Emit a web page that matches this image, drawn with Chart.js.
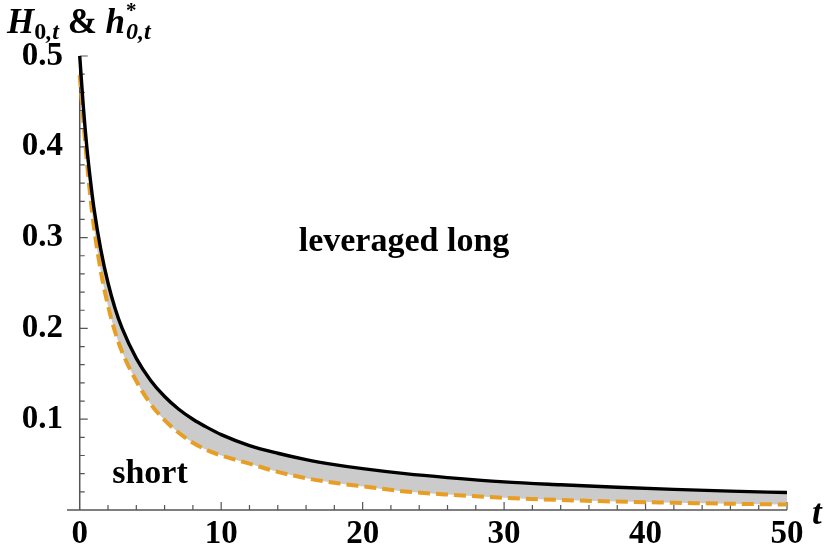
<!DOCTYPE html>
<html>
<head>
<meta charset="utf-8">
<script src="https://cdn.jsdelivr.net/npm/chart.js@4.4.0/dist/chart.umd.min.js"></script>
<style>
  html, body { margin: 0; padding: 0; background: #fff; }
  #wrap { width: 830px; height: 550px; }
</style>
</head>
<body>
<div id="wrap"><canvas id="chart" width="830" height="550"></canvas></div>
<script>
// values
const tValues = [0, 0.25, 0.5, 0.75, 1, 1.5, 2, 2.5, 3, 4, 5, 6, 7, 8, 9, 10, 12, 14, 16, 18, 20, 23, 26, 30, 34, 38, 42, 46, 50];
const bigH = [0.500, 0.445, 0.400, 0.364, 0.333, 0.286, 0.250, 0.222, 0.200, 0.167, 0.143, 0.125, 0.111, 0.100, 0.091, 0.083,
  0.071, 0.0625, 0.0555, 0.050, 0.0455, 0.040, 0.0357, 0.031, 0.0278, 0.025, 0.0227, 0.0208, 0.0192];
const hStar = [0.479, 0.430, 0.385, 0.345, 0.312, 0.262, 0.225, 0.196, 0.174, 0.142, 0.117, 0.099, 0.085, 0.074, 0.066, 0.060,
  0.051, 0.042, 0.035, 0.030, 0.026, 0.0205, 0.017, 0.0135, 0.011, 0.0093, 0.0080, 0.0069, 0.0060];
const xTicks = [0, 10, 20, 30, 40, 50];
const yTicks = [0.1, 0.2, 0.3, 0.4, 0.5];

const SERIF = "'Liberation Serif', 'Times New Roman', serif";
const ORANGE = '#e69e24';

// axes drawn Mathematica style: lines through the origin, ticks pointing inward
const axesPlugin = {
  id: 'axes',
  beforeDatasetsDraw(chart) {
    const { ctx, scales: { x, y }, chartArea } = chart;
    const x0 = x.getPixelForValue(0);
    const y0 = y.getPixelForValue(0);
    ctx.save();
    ctx.strokeStyle = '#555';
    ctx.lineWidth = 1.5;
    ctx.beginPath();
    ctx.moveTo(chartArea.left, y0);
    ctx.lineTo(chartArea.right, y0);
    ctx.moveTo(x0, y0);
    ctx.lineTo(x0, y.getPixelForValue(0.5));
    ctx.stroke();

    ctx.lineWidth = 1.2;
    ctx.beginPath();
    for (let i = 1; i <= 25; i++) {
      const v = i * 2;
      const px = x.getPixelForValue(v);
      const len = v % 10 === 0 ? 8 : 5;
      ctx.moveTo(px, y0);
      ctx.lineTo(px, y0 - len);
    }
    for (let i = 1; i <= 25; i++) {
      const v = i * 0.02;
      const py = y.getPixelForValue(v);
      const len = i % 5 === 0 ? 8 : 5;
      ctx.moveTo(x0, py);
      ctx.lineTo(x0 + len, py);
    }
    ctx.stroke();
    ctx.restore();
  }
};

function drawRuns(ctx, x, runs) {
  runs.forEach(r => {
    ctx.font = r.font;
    ctx.fillText(r.text, x, r.y);
    if (!r.noAdvance) x += ctx.measureText(r.text).width;
  });
  return x;
}

const labelsPlugin = {
  id: 'labels',
  afterDraw(chart) {
    const { ctx } = chart;
    ctx.save();
    ctx.fillStyle = '#000';
    ctx.textBaseline = 'alphabetic';
    ctx.textAlign = 'left';
    // axis title top-left
    let cx = drawRuns(ctx, 7, [
      { text: 'H', font: `italic bold 35px ${SERIF}`, y: 33 },
      { text: '0', font: `bold 24px ${SERIF}`, y: 39 },
      { text: ',t', font: `italic bold 24px ${SERIF}`, y: 39 },
      { text: ' & ', font: `bold 35px ${SERIF}`, y: 33 },
      { text: 'h', font: `italic bold 35px ${SERIF}`, y: 33 }
    ]);
    drawRuns(ctx, cx + 1, [
      { text: '*', font: `bold 21px ${SERIF}`, y: 17, noAdvance: true },
      { text: '0,t', font: `italic bold 24px ${SERIF}`, y: 39 }
    ]);
    // x axis name
    ctx.font = `italic bold 35px ${SERIF}`;
    ctx.fillText('t', 812, 524);
    // region labels
    ctx.font = `bold 34px ${SERIF}`;
    ctx.textAlign = 'center';
    ctx.textBaseline = 'middle';
    ctx.fillText('leveraged long', 404, 242);
    ctx.fillText('short', 150, 474);
    ctx.restore();
  }
};

new Chart(document.getElementById('chart'), {
  type: 'line',
  data: {
    datasets: [
      {
        label: 'H',
        data: tValues.map((t, i) => ({ x: t, y: bigH[i] })),
        borderColor: '#000',
        borderWidth: 3.4,
        pointRadius: 0,
        cubicInterpolationMode: 'monotone',
        fill: { target: 1 },
        backgroundColor: '#cbcbcb'
      },
      {
        label: 'h*',
        data: tValues.map((t, i) => ({ x: t, y: hStar[i] })),
        borderColor: ORANGE,
        borderWidth: 4,
        borderDash: [12, 6],
        pointRadius: 0,
        cubicInterpolationMode: 'monotone',
        fill: false
      }
    ]
  },
  options: {
    responsive: false,
    animation: false,
    layout: { padding: { top: 56, right: 43, left: 0, bottom: 0 } },
    plugins: {
      legend: { display: false },
      tooltip: { enabled: false },
      // paint the band first so it doesn't cover half the dashed line
      filler: { drawTime: 'beforeDatasetsDraw' }
    },
    scales: {
      x: {
        type: 'linear',
        min: -0.9,
        max: 50,
        afterBuildTicks: s => { s.ticks = xTicks.map(v => ({ value: v })); },
        afterFit: s => { s.height = 40; },
        grid: { display: false, drawTicks: false },
        border: { display: false },
        ticks: {
          padding: 5,
          color: '#000',
          maxRotation: 0,
          font: { family: SERIF, size: 33, weight: 'bold' }
        }
      },
      y: {
        type: 'linear',
        min: 0,
        max: 0.5,
        afterBuildTicks: s => { s.ticks = yTicks.map(v => ({ value: v })); },
        afterFit: s => { s.width = 67; },
        grid: { display: false, drawTicks: false },
        border: { display: false },
        ticks: {
          padding: 4,
          color: '#000',
          callback: v => v.toFixed(1),
          font: { family: SERIF, size: 33, weight: 'bold' }
        }
      }
    }
  },
  plugins: [axesPlugin, labelsPlugin]
});
</script>
</body>
</html>
